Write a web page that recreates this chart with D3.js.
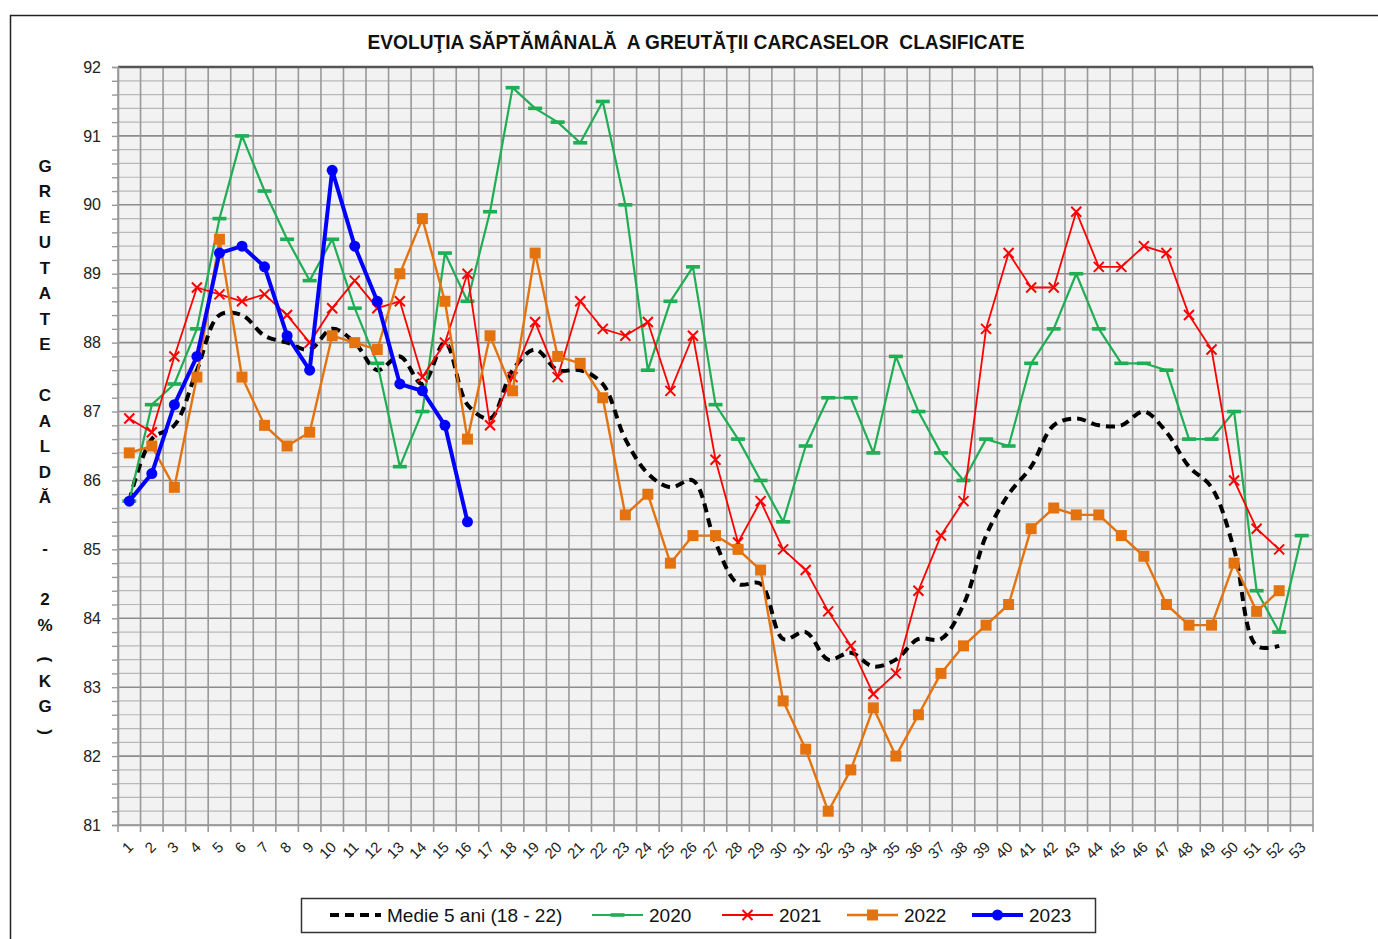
<!DOCTYPE html>
<html>
<head>
<meta charset="utf-8">
<script src="https://cdn.jsdelivr.net/npm/d3@7"></script>
<style>
  body { margin: 0; background: #fff; }
  svg { display: block; }
</style>
</head>
<body>
<div id="chart"></div>
<script>
// Weeks on the x axis
const weeks = d3.range(1, 54);

// Series values
const medie = [85.7, 86.6, 86.8, 87.6, 88.4, 88.4, 88.1, 88.0, 87.9, 88.2,
               88.0, 87.6, 87.8, 87.4, 88.0, 87.1, 86.9, 87.6, 87.9, 87.6,
               87.6, 87.4, 86.6, 86.1, 85.9, 86.0, 85.1, 84.5, 84.5, 83.7,
               83.8, 83.4, 83.5, 83.3, 83.4, 83.7, 83.7, 84.2, 85.2, 85.8,
               86.2, 86.8, 86.9, 86.8, 86.8, 87.0, 86.7, 86.2, 85.9, 85.0,
               83.6, 83.6];
const y2020 = [85.7, 87.1, 87.4, 88.2, 89.8, 91.0, 90.2, 89.5, 88.9, 89.5,
               88.5, 87.7, 86.2, 87.0, 89.3, 88.6, 89.9, 91.7, 91.4, 91.2,
               90.9, 91.5, 90.0, 87.6, 88.6, 89.1, 87.1, 86.6, 86.0, 85.4,
               86.5, 87.2, 87.2, 86.4, 87.8, 87.0, 86.4, 86.0, 86.6, 86.5,
               87.7, 88.2, 89.0, 88.2, 87.7, 87.7, 87.6, 86.6, 86.6, 87.0,
               84.4, 83.8, 85.2];
const y2021 = [86.9, 86.7, 87.8, 88.8, 88.7, 88.6, 88.7, 88.4, 88.0, 88.5,
               88.9, 88.5, 88.6, 87.5, 88.0, 89.0, 86.8, 87.5, 88.3, 87.5,
               88.6, 88.2, 88.1, 88.3, 87.3, 88.1, 86.3, 85.1, 85.7, 85.0,
               84.7, 84.1, 83.6, 82.9, 83.2, 84.4, 85.2, 85.7, 88.2, 89.3,
               88.8, 88.8, 89.9, 89.1, 89.1, 89.4, 89.3, 88.4, 87.9, 86.0,
               85.3, 85.0];
const y2022 = [86.4, 86.5, 85.9, 87.5, 89.5, 87.5, 86.8, 86.5, 86.7, 88.1,
               88.0, 87.9, 89.0, 89.8, 88.6, 86.6, 88.1, 87.3, 89.3, 87.8,
               87.7, 87.2, 85.5, 85.8, 84.8, 85.2, 85.2, 85.0, 84.7, 82.8,
               82.1, 81.2, 81.8, 82.7, 82.0, 82.6, 83.2, 83.6, 83.9, 84.2,
               85.3, 85.6, 85.5, 85.5, 85.2, 84.9, 84.2, 83.9, 83.9, 84.8,
               84.1, 84.4];
const y2023 = [85.7, 86.1, 87.1, 87.8, 89.3, 89.4, 89.1, 88.1, 87.6, 90.5,
               89.4, 88.6, 87.4, 87.3, 86.8, 85.4];

const seriesNames = ["Medie 5 ani (18 - 22)", "2020", "2021", "2022", "2023"];
const yLabel = "GREUTATE CALDĂ - 2% (KG)";
const title = "EVOLUŢIA SĂPTĂMÂNALĂ  A GREUTĂŢII CARCASELOR  CLASIFICATE";

// Dimensions
const W = 1378, H = 939;
const plot = {left: 118, right: 1313, top: 67, bottom: 825};

const svg = d3.select("#chart")
    .append("svg")
    .attr("width", W)
    .attr("height", H);

// Outer chart frame
svg.append("rect")
    .attr("x", 10.5).attr("y", 15.5)
    .attr("width", W + 20).attr("height", H + 20)
    .attr("fill", "#fff")
    .attr("stroke", "#222")
    .attr("stroke-width", 1.5);

// Scales
const x = d3.scaleBand()
    .domain(weeks)
    .range([plot.left, plot.right])
    .padding(0);
const cx = w => x(w) + x.bandwidth() / 2;

const y = d3.scaleLinear()
    .domain([81, 92])
    .range([plot.bottom, plot.top]);

// Plot background
svg.append("rect")
    .attr("x", plot.left).attr("y", plot.top)
    .attr("width", plot.right - plot.left)
    .attr("height", plot.bottom - plot.top)
    .attr("fill", "#f2f2f2");

// Horizontal grid, every 0.2
const yTicks = y.ticks(55);
const isMajor = d => Math.abs(d - Math.round(d)) < 1e-6;
svg.append("g")
    .selectAll("line")
    .data(yTicks)
    .join("line")
    .attr("x1", plot.left).attr("x2", plot.right)
    .attr("y1", d => y(d)).attr("y2", d => y(d))
    .attr("stroke", d => isMajor(d) ? "#8c8c8c" : "#b8b8b8")
    .attr("stroke-width", d => isMajor(d) ? 1.6 : 1.2);

// Vertical grid at the week boundaries
const bounds = weeks.map(w => x(w)).concat([plot.right]);
svg.append("g")
    .selectAll("line")
    .data(bounds)
    .join("line")
    .attr("x1", d => d).attr("x2", d => d)
    .attr("y1", plot.top).attr("y2", plot.bottom + 7)
    .attr("stroke", "#999")
    .attr("stroke-width", 1.6);

// Plot border (top darker)
svg.append("line")
    .attr("x1", plot.left).attr("x2", plot.right)
    .attr("y1", plot.top).attr("y2", plot.top)
    .attr("stroke", "#555").attr("stroke-width", 2.5);

// Y axis
const yAxis = svg.append("g")
    .attr("transform", `translate(${plot.left},0)`)
    .call(d3.axisLeft(y)
        .tickValues(yTicks)
        .tickSize(6)
        .tickPadding(11)
        .tickFormat(d => isMajor(d) ? d3.format("d")(d) : ""));
yAxis.select(".domain").attr("stroke", "#999").attr("stroke-width", 1.6);
yAxis.selectAll(".tick line").attr("stroke", "#999").attr("stroke-width", 1.4);
yAxis.selectAll(".tick text")
    .attr("fill", "#222")
    .style("font-family", "'Liberation Sans', Arial, sans-serif")
    .style("font-size", "16px");

// X axis
const xAxis = svg.append("g")
    .attr("transform", `translate(0,${plot.bottom})`)
    .call(d3.axisBottom(x).tickSize(0).tickSizeOuter(0));
xAxis.select(".domain").attr("stroke", "#999").attr("stroke-width", 1.6);
xAxis.selectAll(".tick text")
    .attr("x", 0).attr("y", 0).attr("dy", 0)
    .attr("text-anchor", "end")
    .attr("transform", "translate(5,23) rotate(-45)")
    .attr("fill", "#222")
    .style("font-family", "'Liberation Sans', Arial, sans-serif")
    .style("font-size", "15px");

// Title
svg.append("text")
    .attr("x", 696).attr("y", 49)
    .attr("text-anchor", "middle")
    .attr("textLength", 657)
    .attr("lengthAdjust", "spacingAndGlyphs")
    .style("white-space", "pre")
    .style("font-family", "'Liberation Sans Narrow', 'Liberation Sans', Arial, sans-serif")
    .style("font-weight", "bold")
    .style("font-size", "20px")
    .attr("fill", "#111")
    .text(title);

// Vertical stacked y-axis label
const labelChars = [];
let row = 0;
yLabel.split("").forEach(ch => {
    if (ch === " ") {
        row += (labelChars.length && labelChars[labelChars.length - 1].ch === "%") ? 0.35 : 1;
    } else {
        labelChars.push({ch: ch, row: row});
        row += (ch === "(") ? 0.85 : 1;
    }
});
svg.append("g")
    .selectAll("text")
    .data(labelChars)
    .join("text")
    .attr("transform", d => {
        const yy = 166 + d.row * 25.5;
        return (d.ch === "(" || d.ch === ")") ? `translate(45,${yy}) rotate(90)` : `translate(45,${yy})`;
    })
    .attr("text-anchor", "middle")
    .attr("dominant-baseline", "central")
    .style("font-family", "'Liberation Sans', Arial, sans-serif")
    .style("font-weight", "bold")
    .style("font-size", "17px")
    .attr("fill", "#111")
    .text(d => d.ch);

// Series definitions
const series = [
    {name: seriesNames[0], values: medie, color: "#000000", width: 4, dash: "9,6", marker: "none", smooth: true},
    {name: seriesNames[1], values: y2020, color: "#1fae54", width: 2.2, marker: "dash"},
    {name: seriesNames[2], values: y2021, color: "#ff0000", width: 1.8, marker: "cross"},
    {name: seriesNames[3], values: y2022, color: "#e4730f", width: 2.4, marker: "square"},
    {name: seriesNames[4], values: y2023, color: "#0000ff", width: 4, marker: "circle"}
];

function drawMarker(g, type, color) {
    if (type === "dash") {
        g.append("rect")
            .attr("x", -7).attr("y", -1.8).attr("width", 14).attr("height", 3.6)
            .attr("fill", color);
    } else if (type === "cross") {
        g.append("path")
            .attr("d", "M-5,-5L5,5M-5,5L5,-5")
            .attr("stroke", color).attr("stroke-width", 2).attr("fill", "none");
    } else if (type === "square") {
        g.append("rect")
            .attr("x", -5.5).attr("y", -5.5).attr("width", 11).attr("height", 11)
            .attr("fill", color);
    } else if (type === "circle") {
        g.append("circle").attr("r", 5.5).attr("fill", color);
    }
}

series.forEach(s => {
    const pts = s.values.map((v, i) => ({w: weeks[i], v: v}));
    const line = d3.line()
        .x(d => cx(d.w))
        .y(d => y(d.v))
        .curve(s.smooth ? d3.curveCatmullRom.alpha(0.5) : d3.curveLinear);

    svg.append("path")
        .datum(pts)
        .attr("fill", "none")
        .attr("stroke", s.color)
        .attr("stroke-width", s.width)
        .attr("stroke-dasharray", s.dash || null)
        .attr("stroke-linejoin", "round")
        .attr("d", line);

    if (s.marker !== "none") {
        pts.forEach(d => {
            const g = svg.append("g").attr("transform", `translate(${cx(d.w)},${y(d.v)})`);
            drawMarker(g, s.marker, s.color);
        });
    }
});

// Legend
const legend = svg.append("g");
legend.append("rect")
    .attr("x", 301.5).attr("y", 898.5)
    .attr("width", 794).attr("height", 34)
    .attr("fill", "#fff")
    .attr("stroke", "#333")
    .attr("stroke-width", 1.5);

const legendX = [330, 592, 722, 847, 972];
series.forEach((s, i) => {
    const lx = legendX[i];
    legend.append("line")
        .attr("x1", lx).attr("x2", lx + 51)
        .attr("y1", 915).attr("y2", 915)
        .attr("stroke", s.color)
        .attr("stroke-width", s.width)
        .attr("stroke-dasharray", s.dash || null);
    if (s.marker !== "none") {
        const g = legend.append("g").attr("transform", `translate(${lx + 25.5},915)`);
        drawMarker(g, s.marker, s.color);
    }
    legend.append("text")
        .attr("x", lx + 57).attr("y", 915)
        .attr("dominant-baseline", "central")
        .style("font-family", "'Liberation Sans', Arial, sans-serif")
        .style("font-size", "19px")
        .attr("fill", "#111")
        .text(s.name);
});
</script>
</body>
</html>
